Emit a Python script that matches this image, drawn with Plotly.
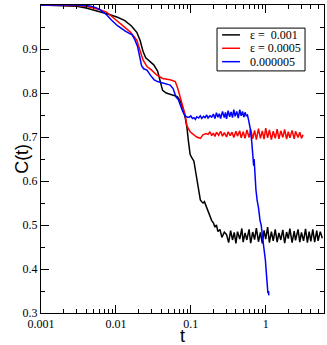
import plotly.graph_objects as go

# epsilon = 0.001
t_black = [0.001, 0.002, 0.003, 0.004, 0.005, 0.0065, 0.008, 0.0105, 0.013, 0.016,
           0.019, 0.021, 0.023, 0.025, 0.028, 0.032, 0.036, 0.039, 0.042, 0.047,
           0.053, 0.06, 0.066, 0.072, 0.079, 0.085, 0.089, 0.093, 0.098, 0.104,
           0.11, 0.115, 0.12, 0.127, 0.134, 0.14, 0.146, 0.152, 0.158, 0.165,
           0.173, 0.182, 0.19, 0.2, 0.21, 0.22, 0.23, 0.245, 0.26, 0.28,
           0.30, 0.32, 0.34, 0.36, 0.38, 0.40, 0.42, 0.45, 0.48, 0.50,
           0.53, 0.56, 0.60, 0.63, 0.67, 0.71, 0.75, 0.80, 0.85, 0.90,
           0.95, 1.0, 1.06, 1.12, 1.19, 1.26, 1.34, 1.42, 1.50, 1.59,
           1.69, 1.79, 1.90, 2.0, 2.1, 2.25, 2.4, 2.5, 2.7, 2.85,
           3.0, 3.2, 3.4, 3.6, 3.8, 4.0, 4.25, 4.5, 4.8, 5.0, 5.35, 5.7]
c_black = [1.0, 0.999, 0.997, 0.993, 0.989, 0.984, 0.979, 0.972, 0.965, 0.953,
           0.938, 0.92, 0.895, 0.88, 0.872, 0.864, 0.85, 0.83, 0.806, 0.80,
           0.797, 0.795, 0.792, 0.782, 0.764, 0.74, 0.72, 0.69, 0.66, 0.652,
           0.645, 0.625, 0.605, 0.58, 0.557, 0.553, 0.55, 0.553, 0.545, 0.54,
           0.528, 0.519, 0.51, 0.505, 0.495, 0.50, 0.485, 0.49, 0.472, 0.484,
           0.478, 0.46, 0.487, 0.466, 0.483, 0.458, 0.485, 0.468, 0.492, 0.461,
           0.482, 0.466, 0.49, 0.459, 0.484, 0.467, 0.493, 0.462, 0.483, 0.458,
           0.488, 0.468, 0.495, 0.46, 0.485, 0.464, 0.49, 0.461, 0.482, 0.466,
           0.489, 0.459, 0.484, 0.469, 0.492, 0.46, 0.486, 0.465, 0.49, 0.461,
           0.483, 0.464, 0.491, 0.46, 0.485, 0.463, 0.49, 0.461, 0.487, 0.464, 0.485, 0.47]

# epsilon = 0.0005
t_red = [0.001, 0.003, 0.004, 0.005, 0.006, 0.0075, 0.0084, 0.0114, 0.0155, 0.019,
         0.021, 0.023, 0.026, 0.03, 0.035, 0.042, 0.053, 0.062, 0.067, 0.072,
         0.078, 0.084, 0.089, 0.098, 0.11, 0.12, 0.134, 0.145, 0.16,
         0.17, 0.18, 0.19, 0.20, 0.21, 0.22, 0.235, 0.25, 0.265, 0.28,
         0.30, 0.315, 0.335, 0.355, 0.375, 0.40, 0.42, 0.45, 0.47, 0.50,
         0.53, 0.56, 0.60, 0.63, 0.67, 0.71, 0.75, 0.80, 0.85, 0.90,
         0.95, 1.0, 1.06, 1.12, 1.19, 1.26, 1.34, 1.42, 1.50, 1.59,
         1.69, 1.79, 1.90, 2.0, 2.1, 2.25, 2.4, 2.5, 2.7, 2.85, 3.0, 3.15]
c_red = [1.0, 0.999, 0.997, 0.993, 0.99, 0.984, 0.977, 0.958, 0.939, 0.92,
         0.898, 0.875, 0.86, 0.852, 0.841, 0.833, 0.83, 0.826, 0.81, 0.79,
         0.77, 0.75, 0.725, 0.712, 0.705, 0.70, 0.697, 0.705, 0.708,
         0.706, 0.712, 0.703, 0.709, 0.701, 0.711, 0.704, 0.713, 0.702, 0.71,
         0.70, 0.712, 0.703, 0.711, 0.699, 0.713, 0.702, 0.714, 0.698, 0.712,
         0.697, 0.716, 0.699, 0.718, 0.696, 0.715, 0.694, 0.719, 0.697, 0.714,
         0.695, 0.72, 0.698, 0.716, 0.694, 0.713, 0.697, 0.718, 0.696, 0.714,
         0.699, 0.717, 0.695, 0.712, 0.698, 0.715, 0.696, 0.713, 0.699, 0.711, 0.697, 0.705]

# 0.000005
t_blue = [0.001, 0.003, 0.0045, 0.0054, 0.0062, 0.0075, 0.0087, 0.0105, 0.0135, 0.0165,
          0.018, 0.0195, 0.021, 0.022, 0.0235, 0.026, 0.029, 0.0325, 0.036, 0.043,
          0.053, 0.058, 0.063, 0.068, 0.073, 0.078, 0.084, 0.09,
          0.095, 0.10, 0.105, 0.11, 0.115, 0.12, 0.127, 0.134, 0.14, 0.148,
          0.155, 0.163, 0.17, 0.18, 0.19, 0.20, 0.21, 0.22, 0.23, 0.24,
          0.25, 0.265, 0.28, 0.29, 0.30, 0.315, 0.33, 0.345, 0.36, 0.375,
          0.39, 0.41, 0.43, 0.45, 0.47, 0.49, 0.51, 0.53, 0.55, 0.57,
          0.59, 0.62, 0.65, 0.67, 0.69, 0.70, 0.72, 0.74, 0.77, 0.80,
          0.84, 0.87, 0.91, 0.95, 0.99, 1.02, 1.05, 1.07, 1.09, 1.1]
c_blue = [1.0, 1.0, 0.998, 0.994, 0.989, 0.978, 0.966, 0.953, 0.94, 0.932,
          0.92, 0.905, 0.879, 0.862, 0.855, 0.852, 0.84, 0.83, 0.826, 0.822,
          0.818, 0.81, 0.792, 0.785, 0.769, 0.758, 0.748, 0.745,
          0.745, 0.748, 0.742, 0.744, 0.74, 0.746, 0.743, 0.748, 0.742, 0.747,
          0.744, 0.75, 0.743, 0.748, 0.745, 0.752, 0.742, 0.755, 0.745, 0.753,
          0.742, 0.758, 0.744, 0.756, 0.741, 0.76, 0.746, 0.757, 0.744, 0.762,
          0.747, 0.758, 0.743, 0.762, 0.748, 0.758, 0.745, 0.756, 0.748, 0.75,
          0.739, 0.72, 0.69, 0.66, 0.635, 0.65, 0.60, 0.58, 0.555, 0.54,
          0.51, 0.50, 0.47, 0.45, 0.42, 0.39, 0.37, 0.345, 0.35, 0.34]

series = [
    (t_black, c_black, "black", "\u03b5 =  0.001"),
    (t_red, c_red, "red", "\u03b5 = 0.0005"),
    (t_blue, c_blue, "blue", "0.000005"),
]

serif = "Times New Roman, Liberation Serif, Times, serif"
sans = "Liberation Sans, Arial, sans-serif"

fig = go.Figure()
for t, c, col, name in series:
    fig.add_trace(go.Scatter(x=t, y=c, mode="lines", name=name,
                             line=dict(color=col, width=1.5)))

minor_x = [m * 10 ** e for e in range(-3, 1) for m in range(2, 10)]

fig.update_xaxes(
    type="log", range=[-3, 0.778], automargin=False,
    tickvals=[0.001, 0.01, 0.1, 1], ticktext=["0.001", "0.01", "0.1", "1"],
    ticks="inside", ticklen=8, tickcolor="black",
    minor=dict(tickvals=minor_x, ticks="inside", ticklen=4, tickcolor="black"),
    showline=True, linecolor="black", linewidth=1, mirror="allticks",
    showgrid=False, zeroline=False,
    tickfont=dict(family=serif, size=12, color="black"),
)
fig.update_yaxes(
    range=[0.3, 1.0], automargin=False,
    tickvals=[0.3, 0.4, 0.5, 0.6, 0.7, 0.8, 0.9, 1.0],
    ticktext=["0.3", "0.4", "0.5", "0.6", "0.7", "0.8", "0.9", "1"],
    ticks="inside", ticklen=8, tickcolor="black",
    minor=dict(dtick=0.05, ticks="inside", ticklen=4, tickcolor="black"),
    showline=True, linecolor="black", linewidth=1, mirror="allticks",
    showgrid=False, zeroline=False,
    tickfont=dict(family=serif, size=12, color="black"),
)

# legend drawn by hand to match the compact box
fig.add_shape(type="rect", xref="paper", yref="paper", x0=0.622, x1=0.933,
              y0=0.786, y1=0.925, line=dict(color="black", width=1),
              fillcolor="white", layer="above")
for i, (t, c, col, name) in enumerate(series):
    yy = 0.903 - i * 0.0435
    fig.add_shape(type="line", xref="paper", yref="paper", x0=0.640, x1=0.703,
                  y0=yy, y1=yy, line=dict(color=col, width=1.5), layer="above")
    fig.add_annotation(xref="paper", yref="paper", x=0.731, y=yy, text=name,
                       showarrow=False, xanchor="left", yanchor="middle",
                       font=dict(family=serif, size=12, color="black"))

fig.add_annotation(xref="paper", yref="paper", x=-0.11, y=0.5, text="C(t)",
                   textangle=-90, showarrow=False,
                   font=dict(family=sans, size=18, color="black"))
fig.add_annotation(xref="paper", yref="paper", x=0.5, y=-0.076, text="t",
                   showarrow=False, yanchor="middle",
                   font=dict(family=sans, size=18, color="black"))

fig.update_layout(
    width=327, height=345, showlegend=False,
    margin=dict(l=41, r=3, t=5, b=32),
    plot_bgcolor="white", paper_bgcolor="white",
)
fig.write_html("out.html", config={"displayModeBar": False},
               post_script="document.body.style.margin='0';")
